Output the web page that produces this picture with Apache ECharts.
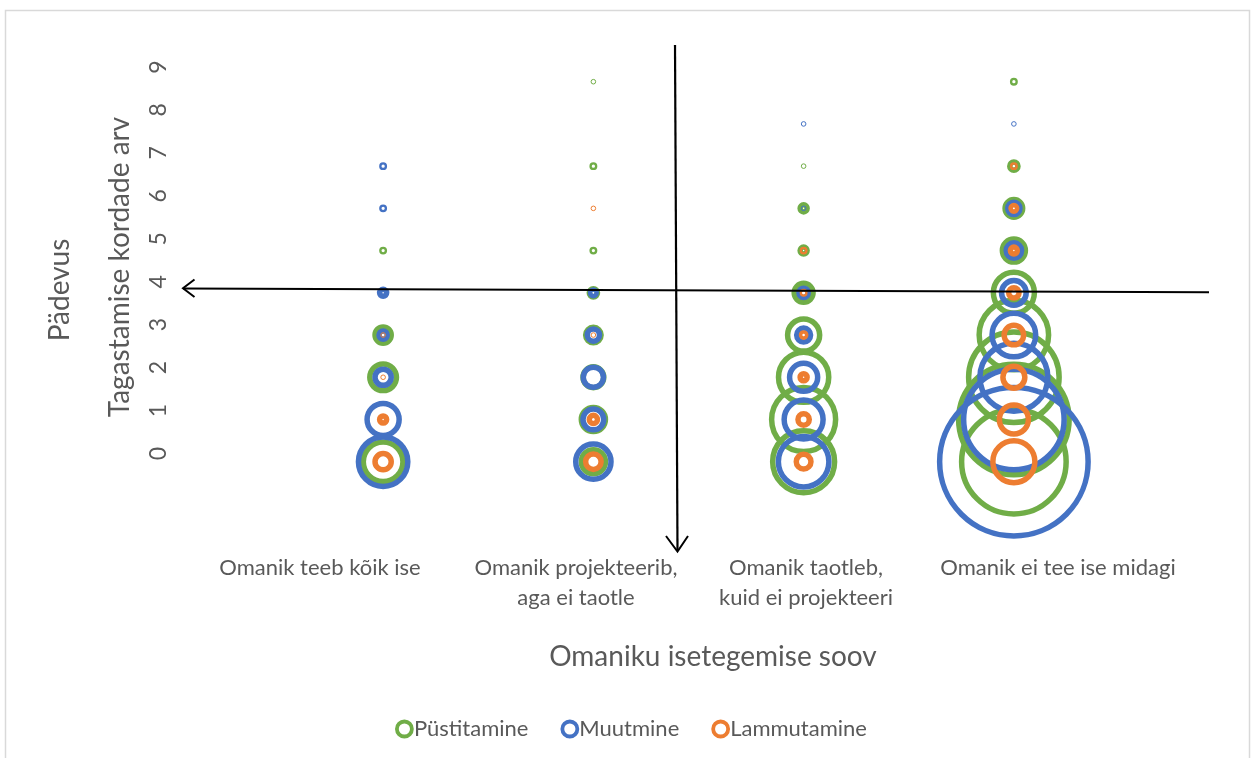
<!DOCTYPE html>
<html>
<head>
<meta charset="utf-8">
<script src="https://cdn.jsdelivr.net/npm/echarts@6/dist/echarts.min.js"></script>
<style>
  html, body { margin: 0; padding: 0; background: #fff; }
  #chart { width: 1259px; height: 758px; }
</style>
</head>
<body>
<div id="chart"></div>
<script>
// kategooriad (x) ja tagastamise kordade arv (y)
const categories = [
  "Omanik teeb kõik ise",
  "Omanik projekteerib,\naga ei taotle",
  "Omanik taotleb,\nkuid ei projekteeri",
  "Omanik ei tee ise midagi",
];
const yTicks = [0, 1, 2, 3, 4, 5, 6, 7, 8, 9];

// mullide suurused: iga kategooria kohta read y = 0..9
const pystitamine = [
  [65, 0, 33, 15, 0, 2, 0, 0, 0, 0],
  [28, 28, 22, 14, 6, 2, 0, 2, 0, 1],
  [145, 154, 99, 45, 19, 5, 5, 1, 0, 0],
  [386, 429, 294, 179, 69, 26, 17, 6, 0, 2],
];
const muutmine = [
  [96, 45, 15, 6, 5, 0, 2, 2, 0, 0],
  [53, 22, 21, 10, 4, 0, 0, 0, 0, 0],
  [100, 63, 36, 12, 7, 0, 1, 0, 1, 0],
  [756, 358, 172, 77, 29, 14, 10, 0, 1, 0],
];
const lammutamine = [
  [15, 5, 1, 1, 0, 0, 0, 0, 0, 0],
  [14, 6, 0, 1, 0, 0, 1, 0, 0, 0],
  [13, 9, 5, 3, 2, 2, 0, 0, 0, 0],
  [72, 38, 24, 20, 8, 5, 4, 2, 0, 0],
];

const colors = ["#70AD47", "#4472C4", "#ED7D31"];
const names = ["Püstitamine", "Muutmine", "Lammutamine"];
const textColor = "#595959";
const font = "Lato";
// Exceli tekstikastide väike nihe
const labelPadding = [[0, 0, 0, 0], [0, 0, 0, 20], [0, 12, 0, 0], [0, 0, 0, 0]];

// mulli pindala ~ väärtus
const bubble = (v, color) => {
  const R = 2.8 * Math.sqrt(v);
  const bw = Math.min(5.5, Math.max(1, (R - 2.3) * 1.4));
  return {
    symbolSize: 2 * R - bw,
    itemStyle: { color: "rgba(0,0,0,0)", borderColor: color, borderWidth: bw, opacity: 1 },
  };
};

const buildData = (table, color) => {
  let list = [];
  table.forEach((col, c) => {
    col.forEach((v, r) => {
      if (v > 0) {
        list.push(Object.assign({ value: [c + 1, r, v] }, bubble(v, color)));
      }
    });
  });
  return list;
};

const chart = echarts.init(document.getElementById("chart"));

const option = {
  backgroundColor: "#fff",
  animation: false,
  textStyle: { fontFamily: font, color: textColor },
  legend: {
    top: 713,
    left: 390,
    itemWidth: 15,
    itemHeight: 15,
    itemGap: 32,
    icon: "circle",
    textStyle: { fontFamily: font, fontSize: 22, color: textColor, padding: [0, 0, 0, -3] },
    data: names.map((n, i) => ({
      name: n,
      itemStyle: { color: "#fff", borderColor: colors[i], borderWidth: 3.8 },
    })),
  },
  grid: [
    // mullid
    { left: 278, right: 140, top: 81.7, height: 380 },
    // telgede sildid
    { left: 197, right: 78, top: 67, height: 386.5 },
  ],
  xAxis: [
    { gridIndex: 0, type: "value", min: 0.5, max: 4.5, show: false },
    {
      gridIndex: 1,
      type: "category",
      data: categories.map((c, i) => ({ value: c, textStyle: { padding: labelPadding[i] } })),
      axisLine: { show: false },
      axisTick: { show: false },
      axisLabel: {
        margin: 99,
        fontFamily: font,
        fontSize: 22,
        lineHeight: 30,
        color: textColor,
        interval: 0,
      },
    },
  ],
  yAxis: [
    { gridIndex: 0, type: "value", min: 0, max: 9, show: false },
    {
      gridIndex: 1,
      type: "value",
      min: 0,
      max: 9,
      interval: 1,
      axisLine: { show: false },
      axisTick: { show: false },
      splitLine: { show: false },
      axisLabel: {
        rotate: 90,
        margin: 27,
        fontFamily: font,
        fontSize: 23,
        color: textColor,
        formatter: (v) => (yTicks.includes(v) ? String(v) : ""),
      },
    },
  ],
  series: [pystitamine, muutmine, lammutamine].map((table, i) => ({
    name: names[i],
    type: "scatter",
    xAxisIndex: 0,
    yAxisIndex: 0,
    clip: false,
    symbol: "circle",
    itemStyle: { color: "rgba(0,0,0,0)", borderColor: colors[i], opacity: 1 },
    emphasis: { disabled: true },
    z: 2 + i,
    data: buildData(table, colors[i]),
  })),
  graphic: [
    {
      type: "rect",
      shape: { x: 5.5, y: 10.5, width: 1244, height: 760 },
      style: { fill: "none", stroke: "#d9d9d9", lineWidth: 1.5 },
      z: 0,
    },
    // pealkirjad
    {
      type: "text",
      x: 713,
      y: 657,
      style: {
        text: "Omaniku isetegemise soov",
        font: "28px Lato",
        fill: textColor,
        textAlign: "center",
        textVerticalAlign: "middle",
      },
    },
    {
      type: "text",
      x: 120,
      y: 267,
      rotation: Math.PI / 2,
      style: {
        text: "Tagastamise kordade arv",
        font: "28px Lato",
        fill: textColor,
        textAlign: "center",
        textVerticalAlign: "middle",
      },
    },
    {
      type: "text",
      x: 60,
      y: 290,
      rotation: Math.PI / 2,
      style: {
        text: "Pädevus",
        font: "28px Lato",
        fill: textColor,
        textAlign: "center",
        textVerticalAlign: "middle",
      },
    },
    // nooled
    {
      type: "polyline",
      shape: { points: [[1209, 292.3], [183, 288.5]] },
      style: { stroke: "#000", lineWidth: 2, fill: "none" },
      z: 10,
    },
    {
      type: "polyline",
      shape: { points: [[194.5, 279.5], [183, 288.3], [194.5, 297]] },
      style: { stroke: "#000", lineWidth: 2, fill: "none" },
      z: 10,
    },
    {
      type: "polyline",
      shape: { points: [[675, 45], [677.5, 551]] },
      style: { stroke: "#000", lineWidth: 2.2, fill: "none" },
      z: 10,
    },
    {
      type: "polyline",
      shape: { points: [[666, 536], [677.5, 551.5], [688, 536]] },
      style: { stroke: "#000", lineWidth: 2, fill: "none" },
      z: 10,
    },
  ],
};

chart.setOption(option);
</script>
</body>
</html>
